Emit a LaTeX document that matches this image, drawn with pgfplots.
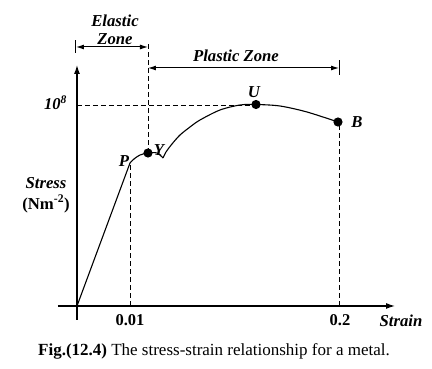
\documentclass[border=0pt]{standalone}
\usepackage{pgfplots}
\pgfplotsset{compat=1.18}
\usepackage{fontspec}
\setmainfont{Liberation Serif}
\usetikzlibrary{arrows.meta}
\tikzset{lbl/.style={font=\fontsize{16.7}{20}\selectfont\bfseries\itshape, inner sep=0pt}}
\begin{document}
\begin{tikzpicture}
\begin{axis}[
  scale only axis, width=337pt, height=255pt,
  xmin=-19, xmax=318, ymin=-14, ymax=241,
  axis lines=middle, clip=false,
  axis line style={line width=1.2pt, -{Latex[length=9pt,width=6pt]}},
  major tick length=0pt,
  xtick={53,263}, xticklabels={0.01,0.2},
  ytick={201}, yticklabels={\textit{10\textsuperscript{8}}},
  /pgf/number format/assume math mode=true,
  every tick label/.append style={font=\fontsize{16.5}{20}\selectfont\bfseries, inner sep=0pt},
  xticklabel style={anchor=base, yshift=-20pt},
  yticklabel style={anchor=base east, xshift=-10pt, yshift=-5pt},
  every axis plot/.append style={line width=1.1pt, black},
]
% curve
\addplot[no marks] coordinates {(0,0) (53,143)};
\addplot[no marks, smooth] coordinates {(53,143) (57,147) (63,151) (71,153) (80,153) (86,148)};
\addplot[no marks, smooth] coordinates {(86,148) (89,154) (95,162) (103,171) (113,179) (123,186) (143,196) (163,201) (179,201.5) (203,200) (230,194) (261,184)};
% dashed guide lines
\addplot[no marks, line width=0.9pt, dash pattern=on 5pt off 3pt] coordinates {(0,201) (179,201)};
\addplot[no marks, line width=0.9pt, dash pattern=on 5pt off 3pt] coordinates {(53,0) (53,143)};
\addplot[no marks, line width=0.9pt, dash pattern=on 5pt off 3pt] coordinates {(71,153) (71,264)};
\addplot[no marks, line width=0.9pt, dash pattern=on 5pt off 3pt] coordinates {(262,0) (262,184)};
% zone arrows
\addplot[no marks, line width=1pt, {Latex[length=8pt,width=5pt]}-{Latex[length=8pt,width=5pt]}] coordinates {(-1,259) (71,259)};
\addplot[no marks, line width=1pt] coordinates {(-1,253) (-1,266)};
\addplot[no marks, line width=1pt, {Latex[length=8pt,width=5pt]}-{Latex[length=8pt,width=5pt]}] coordinates {(71,238) (262,238)};
\addplot[no marks, line width=1pt] coordinates {(262,231) (262,246)};
% points
\addplot[only marks, mark=*, mark size=4pt] coordinates {(71,153) (179,201.5) (261,184)};
% labels
\node[lbl] at (axis cs:38,285) {Elastic};
\node[lbl] at (axis cs:38,267) {Zone};
\node[lbl] at (axis cs:159,250) {Plastic Zone};
\node[lbl] at (axis cs:177,214) {U};
\node[lbl] at (axis cs:280,184) {B};
\node[lbl] at (axis cs:47,145) {P};
\node[lbl] at (axis cs:82,156) {Y};
\node[lbl] at (axis cs:-31,123) {Stress};
\node[font=\fontsize{16.7}{20}\selectfont\bfseries, inner sep=0pt] at (axis cs:-31,102) {(Nm\textsuperscript{-2})};
\node[lbl, anchor=base] at (axis cs:324,-21) {Strain};
\node[font=\fontsize{17}{20}\selectfont, inner sep=0pt, anchor=base] at (axis cs:137,-50) {\textbf{Fig.(12.4)} The stress-strain relationship for a metal.};
\path (axis cs:-77,306) rectangle (axis cs:355,-63);
\end{axis}
\end{tikzpicture}
\end{document}
